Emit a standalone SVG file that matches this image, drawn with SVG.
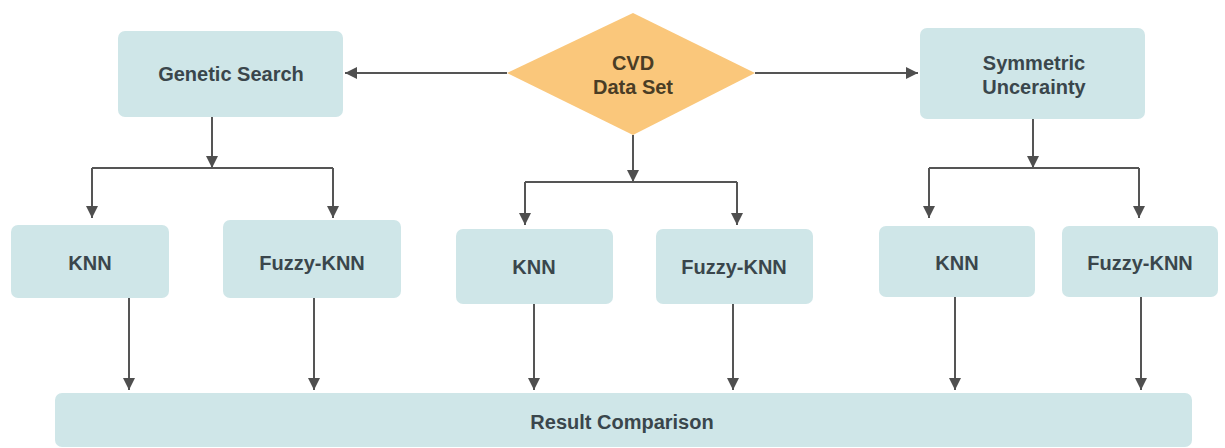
<svg xmlns="http://www.w3.org/2000/svg" width="1225" height="448" viewBox="0 0 1225 448">
  <defs>
    <marker id="arrow" markerUnits="userSpaceOnUse" markerWidth="14" markerHeight="14" refX="12" refY="6" orient="auto">
      <path d="M0,0 L12,6 L0,12 Z" fill="#4f4f4f"/>
    </marker>
    <style>
      .box { fill: #cfe6e8; }
      .dia { fill: #fac77b; }
      .lbl { font-family: "Liberation Sans", Arial, sans-serif; font-weight: bold; font-size: 20px; fill: #3a464c; text-anchor: middle; }
      .dlbl { fill: #4a3d25; }
      .conn { fill: none; stroke: #555555; stroke-width: 2; }
      .arr { marker-end: url(#arrow); }
    </style>
  </defs>
  <rect width="1225" height="448" fill="#ffffff"/>

  <g id="connectors">
    <path class="conn arr" d="M507,73 L345,73"/>
    <path class="conn arr" d="M755,73 L918,73"/>
    <path class="conn arr" d="M212,117 L212,168"/>
    <path class="conn" d="M92,168 L333,168"/>
    <path class="conn arr" d="M92,168 L92,218"/>
    <path class="conn arr" d="M333,168 L333,218"/>
    <path class="conn arr" d="M633,135 L633,182"/>
    <path class="conn" d="M525,182 L737,182"/>
    <path class="conn arr" d="M525,182 L525,225"/>
    <path class="conn arr" d="M737,182 L737,225"/>
    <path class="conn arr" d="M1033,119 L1033,168"/>
    <path class="conn" d="M929,168 L1139,168"/>
    <path class="conn arr" d="M929,168 L929,218"/>
    <path class="conn arr" d="M1139,168 L1139,218"/>
    <path class="conn arr" d="M129,298 L129,390"/>
    <path class="conn arr" d="M314,298 L314,390"/>
    <path class="conn arr" d="M534,304 L534,390"/>
    <path class="conn arr" d="M733,304 L733,390"/>
    <path class="conn arr" d="M955,297 L955,390"/>
    <path class="conn arr" d="M1141,297 L1141,390"/>
  </g>

  <g id="cvd">
    <polygon class="dia" points="633,13 755,73 633,135 507,73"/>
    <text class="lbl dlbl" x="633" y="70">CVD</text>
    <text class="lbl dlbl" x="633" y="94">Data Set</text>
  </g>

  <g id="genetic-search">
    <rect class="box" x="118" y="31" width="225" height="86" rx="7"/>
    <text class="lbl" x="231" y="81">Genetic Search</text>
  </g>

  <g id="symmetric">
    <rect class="box" x="920" y="28" width="225" height="91" rx="7"/>
    <text class="lbl" x="1034" y="70">Symmetric</text>
    <text class="lbl" x="1034" y="94">Uncerainty</text>
  </g>

  <g id="knn-gs">
    <rect class="box" x="11" y="225" width="158" height="73" rx="7"/>
    <text class="lbl" x="90" y="270">KNN</text>
  </g>
  <g id="fknn-gs">
    <rect class="box" x="223" y="220" width="178" height="78" rx="7"/>
    <text class="lbl" x="312" y="270">Fuzzy-KNN</text>
  </g>

  <g id="knn-cvd">
    <rect class="box" x="456" y="229" width="157" height="75" rx="7"/>
    <text class="lbl" x="534" y="274">KNN</text>
  </g>
  <g id="fknn-cvd">
    <rect class="box" x="656" y="229" width="157" height="75" rx="7"/>
    <text class="lbl" x="734" y="274">Fuzzy-KNN</text>
  </g>

  <g id="knn-su">
    <rect class="box" x="879" y="226" width="156" height="71" rx="7"/>
    <text class="lbl" x="957" y="270">KNN</text>
  </g>
  <g id="fknn-su">
    <rect class="box" x="1062" y="226" width="156" height="71" rx="7"/>
    <text class="lbl" x="1140" y="270">Fuzzy-KNN</text>
  </g>

  <g id="result">
    <rect class="box" x="55" y="393" width="1137" height="54" rx="7"/>
    <text class="lbl" x="622" y="429">Result Comparison</text>
  </g>
</svg>
